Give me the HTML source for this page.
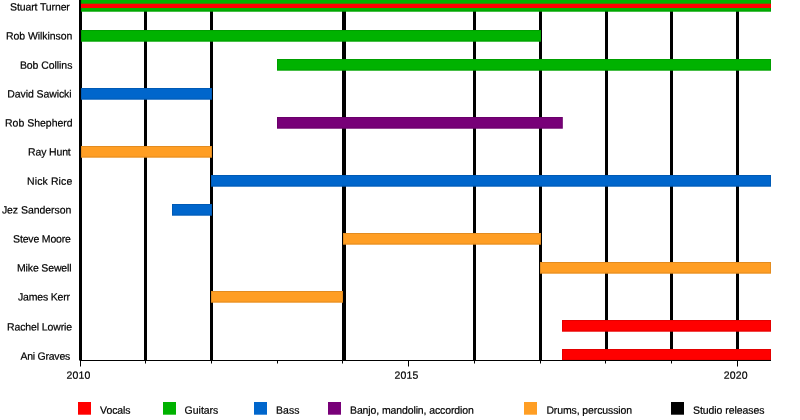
<!DOCTYPE html>
<html><head><meta charset="utf-8"><title>Timeline</title>
<style>html,body{margin:0;padding:0;background:#fff;}svg{display:block;will-change:transform;}text{font-family:"Liberation Sans",sans-serif;font-size:10.5px;fill:#000;stroke:#000;stroke-width:0.2px;white-space:pre;text-rendering:geometricPrecision;}</style></head>
<body>
<svg width="800" height="420" viewBox="0 0 800 420">
<rect width="800" height="420" fill="#fff"/>
<rect x="79" y="0" width="3" height="360.5" fill="#000"/>
<rect x="144" y="0" width="3" height="360.5" fill="#000"/>
<rect x="210" y="0" width="3" height="360.5" fill="#000"/>
<rect x="342" y="0" width="4" height="360.5" fill="#000"/>
<rect x="473" y="0" width="3" height="360.5" fill="#000"/>
<rect x="539" y="0" width="3" height="360.5" fill="#000"/>
<rect x="605" y="0" width="3" height="360.5" fill="#000"/>
<rect x="670" y="0" width="3" height="360.5" fill="#000"/>
<rect x="736" y="0" width="3" height="360.5" fill="#000"/>
<rect x="81" y="0" width="690" height="11.7" fill="#00B200"/>
<rect x="81.5" y="-2" width="689" height="13.0" fill="none" stroke="#000" stroke-opacity="0.11" stroke-width="1"/>
<rect x="81" y="30" width="460" height="11.7" fill="#00B200"/>
<rect x="81.5" y="30.5" width="459" height="10.5" fill="none" stroke="#000" stroke-opacity="0.11" stroke-width="1"/>
<rect x="277" y="59" width="494" height="11.7" fill="#00B200"/>
<rect x="277.5" y="59.5" width="493" height="10.5" fill="none" stroke="#000" stroke-opacity="0.11" stroke-width="1"/>
<rect x="81" y="88" width="131" height="11.7" fill="#0066CC"/>
<rect x="81.5" y="88.5" width="130" height="10.5" fill="none" stroke="#000" stroke-opacity="0.11" stroke-width="1"/>
<rect x="277" y="117" width="285.8" height="11.7" fill="#780078"/>
<rect x="277.5" y="117.5" width="284.8" height="10.5" fill="none" stroke="#000" stroke-opacity="0.11" stroke-width="1"/>
<rect x="81" y="146" width="131" height="11.7" fill="#FF9E24"/>
<rect x="81.5" y="146.5" width="130" height="10.5" fill="none" stroke="#000" stroke-opacity="0.11" stroke-width="1"/>
<rect x="211" y="175" width="560" height="11.7" fill="#0066CC"/>
<rect x="211.5" y="175.5" width="559" height="10.5" fill="none" stroke="#000" stroke-opacity="0.11" stroke-width="1"/>
<rect x="172" y="204" width="40" height="11.7" fill="#0066CC"/>
<rect x="172.5" y="204.5" width="39" height="10.5" fill="none" stroke="#000" stroke-opacity="0.11" stroke-width="1"/>
<rect x="343" y="233" width="198" height="11.7" fill="#FF9E24"/>
<rect x="343.5" y="233.5" width="197" height="10.5" fill="none" stroke="#000" stroke-opacity="0.11" stroke-width="1"/>
<rect x="540" y="262" width="231" height="11.7" fill="#FF9E24"/>
<rect x="540.5" y="262.5" width="230" height="10.5" fill="none" stroke="#000" stroke-opacity="0.11" stroke-width="1"/>
<rect x="211" y="291" width="132" height="11.7" fill="#FF9E24"/>
<rect x="211.5" y="291.5" width="131" height="10.5" fill="none" stroke="#000" stroke-opacity="0.11" stroke-width="1"/>
<rect x="562" y="320" width="209" height="11.7" fill="#FF0000"/>
<rect x="562.5" y="320.5" width="208" height="10.5" fill="none" stroke="#000" stroke-opacity="0.11" stroke-width="1"/>
<rect x="562" y="349" width="209" height="11.7" fill="#FF0000"/>
<rect x="562.5" y="349.5" width="208" height="10.5" fill="none" stroke="#000" stroke-opacity="0.11" stroke-width="1"/>
<rect x="81" y="3.7" width="690" height="4.3" fill="#FF0000"/>
<rect x="80" y="360" width="691" height="1" fill="#000"/>
<rect x="80" y="360" width="1" height="6.5" fill="#000"/>
<rect x="145" y="360" width="1" height="3.5" fill="#000"/>
<rect x="211" y="360" width="1" height="3.5" fill="#000"/>
<rect x="277" y="360" width="1" height="3.5" fill="#000"/>
<rect x="342" y="360" width="1" height="3.5" fill="#000"/>
<rect x="408" y="360" width="1" height="6.5" fill="#000"/>
<rect x="474" y="360" width="1" height="3.5" fill="#000"/>
<rect x="540" y="360" width="1" height="3.5" fill="#000"/>
<rect x="605" y="360" width="1" height="3.5" fill="#000"/>
<rect x="671" y="360" width="1" height="3.5" fill="#000"/>
<rect x="737" y="360" width="1" height="6.5" fill="#000"/>
<text transform="translate(10.12 10.45) matrix(1 0.0005 0 1 0 0)" textLength="59.73" lengthAdjust="spacing">Stuart Turner</text>
<text transform="translate(6.0 39.55) matrix(1 0.0005 0 1 0 0)" textLength="66.36" lengthAdjust="spacing">Rob Wilkinson</text>
<text transform="translate(19.88 68.75) matrix(1 0.0005 0 1 0 0)" textLength="52.5" lengthAdjust="spacing">Bob Collins</text>
<text transform="translate(7.25 97.45) matrix(1 0.0005 0 1 0 0)" textLength="64.36" lengthAdjust="spacing">David Sawicki</text>
<text transform="translate(5.0 126.55) matrix(1 0.0005 0 1 0 0)" textLength="67.64" lengthAdjust="spacing">Rob Shepherd</text>
<text transform="translate(28.0 155.45) matrix(1 0.0005 0 1 0 0)" textLength="42.78" lengthAdjust="spacing">Ray Hunt</text>
<text transform="translate(27.0 184.85) matrix(1 0.0005 0 1 0 0)" textLength="45.22" lengthAdjust="spacing">Nick Rice</text>
<text transform="translate(1.88 213.55) matrix(1 0.0005 0 1 0 0)" textLength="69.5" lengthAdjust="spacing">Jez Sanderson</text>
<text transform="translate(13.12 242.55) matrix(1 0.0005 0 1 0 0)" textLength="57.78" lengthAdjust="spacing">Steve Moore</text>
<text transform="translate(17.0 271.55) matrix(1 0.0005 0 1 0 0)" textLength="54.58" lengthAdjust="spacing">Mike Sewell</text>
<text transform="translate(17.88 300.55) matrix(1 0.0005 0 1 0 0)" textLength="52.19" lengthAdjust="spacing">James Kerr</text>
<text transform="translate(7.0 330.55) matrix(1 0.0005 0 1 0 0)" textLength="65.17" lengthAdjust="spacing">Rachel Lowrie</text>
<text transform="translate(20.38 359.75) matrix(1 0.0005 0 1 0 0)" textLength="49.86" lengthAdjust="spacing">Ani Graves</text>
<text transform="translate(66.62 378.75) matrix(1 0.0005 0 1 0 0)" textLength="23.73" lengthAdjust="spacing">2010</text>
<text transform="translate(394.62 378.75) matrix(1 0.0005 0 1 0 0)" textLength="23.71" lengthAdjust="spacing">2015</text>
<text transform="translate(723.63 378.75) matrix(1 0.0005 0 1 0 0)" textLength="23.86" lengthAdjust="spacing">2020</text>
<rect x="78" y="402" width="13" height="12.7" fill="#FF0000"/>
<text transform="translate(100.12 413.8) matrix(1 0.0005 0 1 0 0)" textLength="30.41" lengthAdjust="spacing">Vocals</text>
<rect x="163" y="402" width="13" height="12.7" fill="#00B200"/>
<text transform="translate(184.62 413.8) matrix(1 0.0005 0 1 0 0)" textLength="33.72" lengthAdjust="spacing">Guitars</text>
<rect x="254" y="402" width="13" height="12.7" fill="#0066CC"/>
<text transform="translate(275.88 413.8) matrix(1 0.0005 0 1 0 0)" textLength="23.59" lengthAdjust="spacing">Bass</text>
<rect x="328" y="402" width="13" height="12.7" fill="#780078"/>
<text transform="translate(350.0 413.75) matrix(1 0.0005 0 1 0 0)" textLength="123.77" lengthAdjust="spacing">Banjo, mandolin, accordion</text>
<rect x="524" y="402" width="13" height="12.7" fill="#FF9E24"/>
<text transform="translate(546.38 413.75) matrix(1 0.0005 0 1 0 0)" textLength="85.78" lengthAdjust="spacing">Drums, percussion</text>
<rect x="671" y="402" width="13" height="12.7" fill="#000"/>
<text transform="translate(693.0 413.75) matrix(1 0.0005 0 1 0 0)" textLength="71.44" lengthAdjust="spacing">Studio releases</text>
</svg>
</body></html>
